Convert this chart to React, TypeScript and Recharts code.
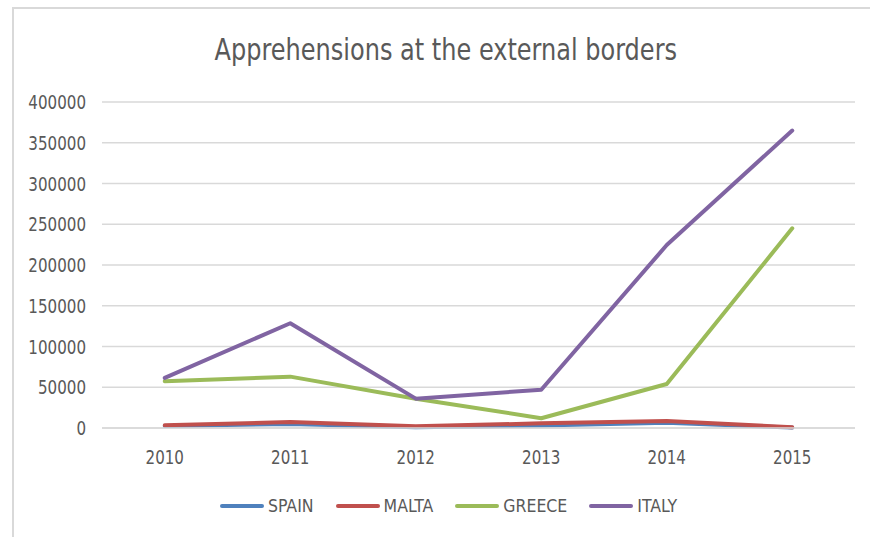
import React from "react";
import { LineChart, Line, XAxis, YAxis, CartesianGrid, Legend } from "recharts";

const years = ["2010", "2011", "2012", "2013", "2014", "2015"];
const spain = [2500, 5000, 800, 3200, 6500, 500];
const malta = [3300, 7400, 2000, 5700, 8600, 900];
const greece = [57500, 63000, 36000, 12000, 54000, 245000];
const italy = [61500, 128500, 36000, 47000, 224500, 365000];
const yTicks = [0, 50000, 100000, 150000, 200000, 250000, 300000, 350000, 400000];

const seriesDefs = [
  { key: "SPAIN", values: spain, color: "#4F81BD" },
  { key: "MALTA", values: malta, color: "#C0504D" },
  { key: "GREECE", values: greece, color: "#9BBB59" },
  { key: "ITALY", values: italy, color: "#8064A2" },
];

const data = years.map((y, i) => {
  const row: any = { year: y };
  seriesDefs.forEach((s) => (row[s.key] = s.values[i]));
  return row;
});

const FONT = "'DejaVu Sans Condensed', 'DejaVu Sans', sans-serif";
const GRAY = "#595959";

const YTick = (props: any) => {
  const { x, y, payload } = props;
  return (
    <g transform={`translate(${x},${y})`}>
      <text transform="scale(0.84,1)" textAnchor="end" dy="0.355em" fill={GRAY} fontSize={20} fontFamily={FONT}>
        {payload.value}
      </text>
    </g>
  );
};

const XTick = (props: any) => {
  const { x, y, payload } = props;
  return (
    <g transform={`translate(${x},${y})`}>
      <text transform="scale(0.84,1)" textAnchor="middle" dy="0.71em" fill={GRAY} fontSize={20} fontFamily={FONT}>
        {payload.value}
      </text>
    </g>
  );
};

const renderLegend = (props: any) => {
  const { payload } = props;
  const ordered = seriesDefs
    .map((s) => payload.find((p: any) => p.value === s.key))
    .filter(Boolean);
  return (
    <div style={{ display: "flex", alignItems: "center", fontFamily: FONT, fontSize: 17.5, color: GRAY }}>
      {ordered.map((p: any, i: number) => (
        <div key={p.value} style={{ display: "flex", alignItems: "center", marginLeft: i === 0 ? 0 : 22 }}>
          <svg width={44} height={8} style={{ display: "block" }}>
            <line x1={2} y1={4} x2={42} y2={4} stroke={p.color} strokeWidth={4} strokeLinecap="round" />
          </svg>
          <span style={{ marginLeft: 4 }}>{p.value}</span>
        </div>
      ))}
    </div>
  );
};

export default function App() {
  return (
    <div style={{ position: "absolute", left: 0, top: 0, width: 870, height: 537, background: "#fff", overflow: "hidden" }}>
      <div
        style={{
          position: "absolute",
          left: 12,
          top: 7,
          width: 858,
          height: 530,
          borderTop: "2px solid #D9D9D9",
          borderLeft: "2px solid #D9D9D9",
          boxSizing: "border-box",
        }}
      />
      <div
        style={{
          position: "absolute",
          left: 0,
          top: 30,
          width: 870,
          paddingLeft: 22,
          boxSizing: "border-box",
          textAlign: "center",
          fontFamily: FONT,
          fontSize: 30,
          color: GRAY,
          lineHeight: "40px",
        }}
      >
        <span style={{ display: "inline-block", transform: "scaleX(0.89)" }}>
          Apprehensions at the external borders
        </span>
      </div>
      <div style={{ position: "absolute", left: 0, top: 0 }}>
        <LineChart width={870} height={537} data={data} margin={{ top: 102, right: 15, left: 0, bottom: 79 }}>
          <CartesianGrid vertical={false} stroke="#D9D9D9" strokeWidth={1.5} />
          <XAxis
            dataKey="year"
            padding={{ left: 62.75, right: 62.75 }}
            tickLine={false}
            tickSize={0}
            tickMargin={22}
            axisLine={{ stroke: "#D9D9D9", strokeWidth: 1.5 }}
            tick={<XTick />}
          />
          <YAxis
            width={102}
            domain={[0, 400000]}
            ticks={yTicks}
            interval={0}
            tickLine={false}
            axisLine={false}
            tickSize={0}
            tickMargin={16}
            tick={<YTick />}
          />
          <Legend
            layout="horizontal"
            verticalAlign="middle"
            align="center"
            content={renderLegend}
            wrapperStyle={{ top: 496, left: 220, width: 470, height: 26 }}
          />
          {seriesDefs.map((s) => (
            <Line
              key={s.key}
              type="linear"
              dataKey={s.key}
              name={s.key}
              stroke={s.color}
              strokeWidth={4}
              strokeLinecap="round"
              strokeLinejoin="round"
              dot={false}
              activeDot={false}
              isAnimationActive={false}
            />
          ))}
        </LineChart>
      </div>
    </div>
  );
}
